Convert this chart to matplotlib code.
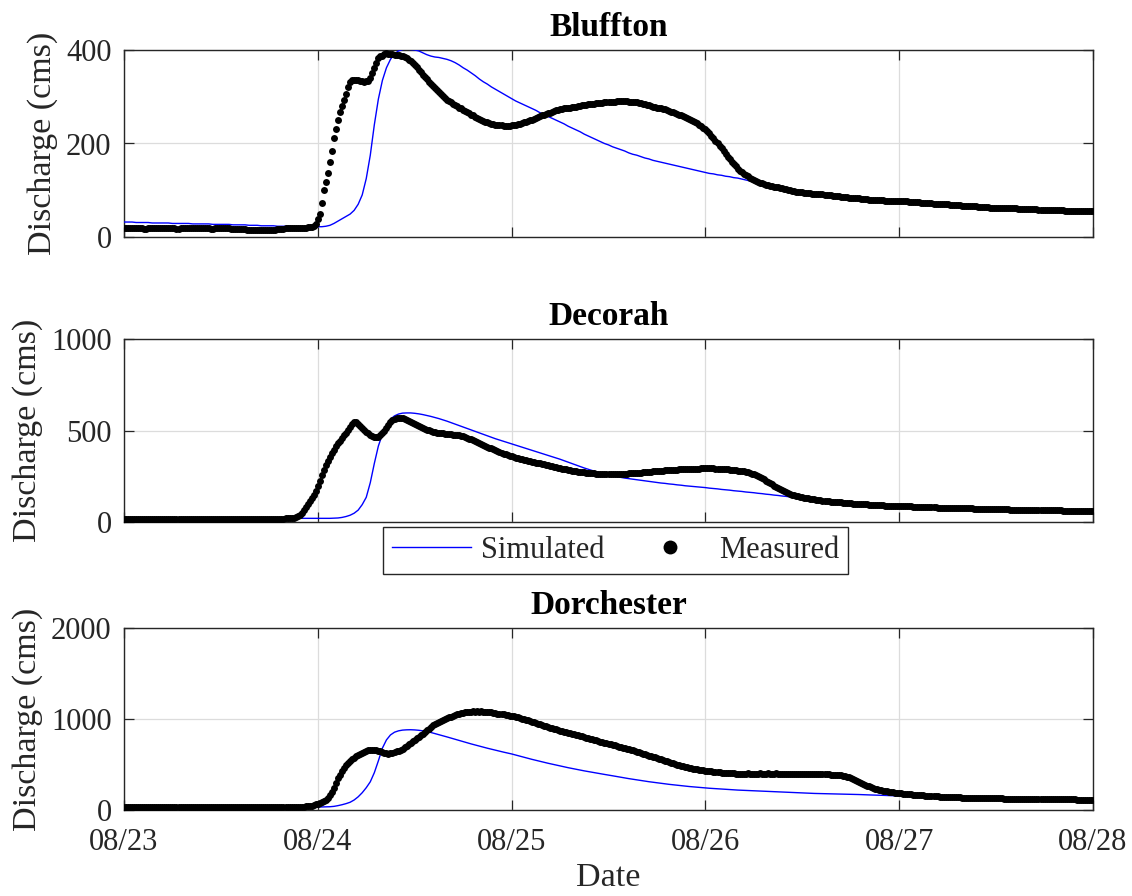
import numpy as np
import matplotlib
matplotlib.use("Agg")
import matplotlib.pyplot as plt
from matplotlib.lines import Line2D

plt.rcParams["font.family"] = ["Liberation Serif", "DejaVu Serif"]

# ---------------------------------------------------------------------------
# Data: discharge (cms) from 08/23 00:00 to 08/28 00:00
#   measured gauge records every 15 minutes, simulated output every 30 minutes
#   (one row below = 12 hours)
# ---------------------------------------------------------------------------
MEAS_STEP_HOURS = 0.25
SIM_STEP_HOURS = 0.5
stations = ["Bluffton", "Decorah", "Dorchester"]
date_labels = ["08/23", "08/24", "08/25", "08/26", "08/27", "08/28"]
y_limits = [400, 1000, 2000]
y_ticks = [[0, 200, 400], [0, 500, 1000], [0, 1000, 2000]]

bluffton_measured = [
    19, 19, 19, 19, 19, 19, 19, 19, 19, 19, 18, 18, 19, 19, 19, 19, 19, 19, 19, 19, 19, 19, 19, 19,
    19, 19, 18, 18, 19, 19, 19, 19, 19, 19, 19, 19, 19, 19, 19, 19, 19, 19, 19, 18, 18, 19, 19, 19,
    19, 19, 19, 19, 19, 18, 18, 18, 18, 18, 18, 17, 17, 16, 16, 15, 15, 15, 15, 15, 15, 15, 15, 15,
    15, 15, 16, 16, 17, 17, 18, 18, 19, 19, 19, 19, 19, 19, 19, 20, 20, 20, 20, 21, 21, 22, 24, 28,
    38, 50, 73, 100, 118, 136, 160, 185, 212, 230, 250, 268, 280, 293, 305, 320, 331, 335, 336, 336, 335, 334, 333, 332,
    333, 334, 340, 350, 362, 372, 383, 387, 388, 391, 393, 392, 391, 391, 390, 390, 389, 388, 387, 385, 382, 379, 376, 372,
    368, 363, 357, 352, 347, 342, 338, 332, 327, 322, 318, 314, 310, 306, 302, 298, 294, 291, 288, 285, 282, 280, 277, 275,
    272, 270, 267, 265, 262, 260, 257, 255, 253, 251, 249, 247, 245, 244, 242, 241, 240, 240, 239, 239, 238, 238, 238, 238,
    239, 239, 240, 241, 242, 243, 245, 246, 248, 250, 251, 253, 255, 256, 258, 260, 262, 263, 265, 266, 268, 270, 271, 272,
    273, 274, 275, 276, 277, 277, 278, 279, 279, 280, 281, 282, 283, 283, 284, 284, 285, 285, 286, 286, 287, 287, 288, 288,
    289, 289, 289, 289, 290, 290, 290, 290, 290, 290, 289, 289, 289, 289, 288, 287, 286, 285, 284, 283, 282, 281, 279, 278,
    277, 276, 275, 274, 273, 271, 270, 268, 267, 265, 264, 262, 260, 258, 256, 254, 252, 250, 248, 246, 243, 240, 237, 234,
    231, 227, 222, 217, 211, 206, 200, 195, 190, 184, 178, 172, 166, 161, 156, 151, 146, 142, 139, 135, 132, 130, 127, 124,
    122, 120, 118, 116, 115, 113, 112, 111, 110, 109, 108, 107, 106, 105, 104, 103, 102, 101, 100, 99, 98, 97, 97, 96,
    96, 95, 95, 95, 94, 93, 93, 92, 92, 91, 91, 90, 90, 89, 89, 88, 88, 87, 87, 86, 86, 85, 85, 84,
    84, 84, 84, 83, 83, 82, 82, 81, 81, 80, 80, 80, 80, 79, 79, 79, 79, 78, 78, 78, 78, 77, 77, 77,
    77, 76, 76, 76, 76, 75, 75, 74, 74, 74, 74, 73, 73, 73, 73, 72, 72, 71, 71, 71, 71, 70, 70, 70,
    70, 69, 69, 69, 69, 68, 68, 67, 67, 67, 67, 66, 66, 66, 66, 65, 65, 64, 64, 64, 64, 63, 63, 63,
    63, 62, 62, 62, 62, 61, 61, 61, 61, 61, 61, 60, 60, 60, 60, 60, 59, 59, 59, 59, 59, 58, 58, 58,
    58, 58, 58, 58, 57, 57, 57, 57, 57, 57, 56, 56, 56, 56, 56, 56, 56, 56, 55, 55, 55, 55, 55, 55,
    55,
]
bluffton_simulated = [
    32, 32, 32, 31, 31, 31, 31, 30, 30, 30, 30, 30, 29, 29, 29, 29, 29, 28, 28, 28, 28, 28, 27, 27,
    27, 27, 27, 26, 26, 26, 26, 25, 25, 25, 24, 24, 24, 24, 23, 23, 23, 23, 22, 22, 22, 22, 22, 22,
    22, 22, 23, 25, 29, 34, 39, 44, 49, 57, 70, 90, 125, 175, 240, 295, 335, 362, 380, 392, 398, 401, 402, 401,
    400, 398, 394, 390, 387, 385, 384, 382, 380, 377, 373, 368, 362, 357, 351, 345, 338, 332, 327, 321, 316, 311, 306, 301,
    296, 291, 287, 283, 279, 275, 271, 266, 262, 258, 254, 250, 246, 242, 237, 233, 229, 225, 220, 216, 212, 208, 204, 200,
    197, 193, 190, 187, 184, 180, 177, 175, 172, 169, 167, 164, 162, 160, 158, 156, 154, 152, 150, 148, 146, 144, 142, 140,
    138, 136, 135, 133, 132, 130, 129, 127, 126, 124, 122, 120, 119, 117, 115, 113, 111, 109, 107, 105, 103, 101, 99, 98,
    96, 95, 94, 93, 92, 91, 90, 89, 88, 87, 86, 85, 84, 83, 82, 81, 80, 80, 79, 78, 78, 77, 77, 76,
    76, 75, 75, 74, 73, 73, 72, 72, 71, 70, 70, 69, 69, 68, 67, 67, 66, 66, 65, 64, 64, 63, 63, 62,
    62, 61, 61, 60, 60, 60, 59, 59, 58, 58, 58, 57, 57, 57, 56, 56, 56, 55, 55, 55, 55, 54, 54, 54,
    54,
]

decorah_measured = [
    18, 18, 18, 18, 18, 18, 18, 18, 18, 18, 18, 18, 18, 18, 18, 18, 18, 18, 18, 18, 18, 18, 18, 18,
    18, 18, 18, 18, 18, 18, 18, 18, 18, 18, 18, 18, 18, 18, 18, 18, 18, 18, 18, 18, 18, 18, 18, 18,
    18, 18, 18, 18, 18, 18, 18, 18, 18, 18, 18, 18, 18, 18, 18, 18, 18, 18, 18, 18, 18, 18, 18, 18,
    18, 18, 18, 18, 19, 19, 19, 19, 20, 20, 21, 22, 24, 27, 32, 40, 50, 64, 80, 97, 115, 132, 150, 172,
    195, 225, 255, 283, 310, 333, 355, 375, 395, 413, 430, 445, 460, 474, 488, 503, 518, 533, 548, 545, 538, 527, 515, 505,
    494, 484, 475, 469, 465, 464, 466, 474, 485, 498, 512, 528, 545, 555, 562, 566, 568, 569, 568, 565, 560, 554, 548, 541,
    535, 530, 525, 520, 515, 510, 505, 501, 497, 494, 491, 489, 487, 485, 484, 482, 481, 480, 479, 477, 476, 474, 473, 470,
    468, 464, 460, 456, 452, 447, 443, 437, 432, 427, 422, 417, 412, 407, 402, 397, 392, 387, 383, 378, 374, 370, 366, 362,
    358, 354, 351, 348, 345, 342, 340, 337, 335, 332, 330, 327, 325, 322, 320, 317, 315, 312, 310, 307, 305, 302, 300, 297,
    295, 292, 290, 287, 285, 282, 280, 278, 277, 275, 274, 272, 271, 270, 269, 268, 267, 266, 265, 264, 264, 263, 263, 263,
    263, 263, 263, 263, 263, 263, 264, 264, 265, 265, 266, 266, 267, 267, 268, 269, 270, 271, 272, 273, 274, 275, 276, 277,
    278, 279, 280, 281, 282, 282, 283, 284, 285, 285, 286, 287, 288, 288, 289, 289, 290, 290, 291, 291, 292, 292, 293, 293,
    294, 294, 294, 293, 293, 292, 292, 291, 290, 289, 288, 287, 286, 285, 284, 282, 281, 279, 278, 276, 274, 271, 268, 265,
    261, 257, 252, 246, 240, 233, 226, 219, 212, 205, 198, 191, 185, 179, 173, 168, 163, 158, 154, 150, 147, 144, 141, 138,
    136, 133, 131, 129, 127, 125, 123, 121, 120, 118, 117, 115, 114, 113, 112, 111, 110, 109, 108, 107, 106, 105, 104, 103,
    102, 101, 100, 99, 99, 98, 97, 96, 96, 95, 95, 94, 93, 92, 92, 91, 91, 90, 90, 89, 89, 88, 88, 87,
    87, 87, 87, 86, 86, 85, 85, 84, 84, 83, 83, 82, 82, 82, 82, 81, 81, 80, 80, 79, 79, 79, 79, 78,
    78, 77, 77, 77, 77, 76, 76, 75, 75, 75, 75, 74, 74, 73, 73, 73, 73, 72, 72, 72, 72, 71, 71, 71,
    70, 70, 70, 69, 69, 69, 69, 68, 68, 68, 68, 67, 67, 67, 67, 66, 66, 66, 66, 65, 65, 65, 65, 64,
    64, 64, 64, 63, 63, 63, 63, 63, 63, 62, 62, 62, 62, 61, 61, 61, 61, 61, 61, 60, 60, 60, 60, 60,
    60,
]
decorah_simulated = [
    24, 24, 24, 23, 23, 23, 23, 23, 22, 22, 22, 22, 22, 22, 22, 21, 21, 21, 21, 21, 21, 21, 21, 21,
    21, 21, 21, 21, 20, 20, 20, 20, 20, 20, 20, 20, 20, 20, 20, 20, 20, 20, 20, 20, 20, 20, 20, 20,
    20, 20, 20, 20, 21, 22, 25, 30, 37, 48, 65, 95, 135, 215, 320, 415, 480, 530, 562, 580, 590, 595, 596, 596,
    594, 591, 587, 582, 577, 571, 565, 558, 551, 543, 535, 527, 519, 511, 503, 495, 487, 479, 471, 463, 455, 448, 441, 434,
    427, 420, 413, 406, 399, 392, 385, 378, 371, 364, 357, 350, 343, 335, 327, 319, 311, 303, 295, 288, 281, 274, 268, 262,
    257, 252, 248, 244, 240, 237, 234, 231, 228, 225, 222, 219, 216, 213, 211, 208, 206, 203, 201, 198, 196, 194, 192, 190,
    188, 185, 183, 181, 178, 176, 174, 171, 169, 167, 164, 162, 160, 157, 155, 152, 150, 147, 145, 142, 140, 137, 135, 132,
    130, 127, 124, 121, 118, 115, 112, 110, 108, 106, 104, 102, 100, 98, 97, 95, 94, 93, 91, 90, 89, 88, 87, 86,
    86, 85, 84, 83, 82, 81, 81, 80, 79, 78, 78, 77, 76, 76, 75, 74, 74, 73, 72, 72, 71, 71, 70, 70,
    69, 69, 68, 68, 67, 67, 66, 66, 65, 65, 64, 64, 63, 63, 62, 62, 62, 61, 61, 60, 60, 60, 59, 59,
    59,
]

dorchester_measured = [
    30, 30, 30, 30, 30, 30, 30, 30, 30, 30, 30, 30, 30, 30, 30, 30, 30, 30, 30, 30, 30, 30, 30, 30,
    30, 30, 30, 30, 30, 30, 30, 30, 30, 30, 30, 30, 30, 30, 30, 30, 30, 30, 30, 30, 30, 30, 30, 30,
    30, 30, 30, 30, 30, 30, 30, 30, 30, 30, 30, 30, 30, 30, 30, 30, 30, 30, 30, 30, 30, 30, 30, 30,
    30, 30, 30, 30, 30, 30, 30, 30, 30, 30, 31, 31, 32, 33, 34, 35, 36, 38, 40, 42, 44, 49, 55, 62,
    70, 80, 90, 102, 115, 135, 160, 200, 245, 300, 350, 390, 425, 460, 490, 515, 535, 556, 575, 591, 605, 618, 630, 640,
    648, 654, 658, 659, 658, 655, 650, 643, 635, 628, 622, 620, 622, 628, 635, 643, 652, 663, 675, 690, 705, 721, 738, 754,
    770, 788, 805, 822, 840, 858, 875, 894, 912, 929, 945, 958, 970, 980, 990, 999, 1008, 1017, 1025, 1034, 1042, 1050, 1058, 1063,
    1068, 1072, 1077, 1074, 1080, 1084, 1080, 1085, 1078, 1083, 1080, 1076, 1079, 1073, 1074, 1066, 1065, 1060, 1058, 1051, 1052, 1044, 1042, 1037,
    1035, 1030, 1025, 1019, 1012, 1005, 998, 992, 985, 979, 972, 965, 958, 950, 942, 934, 925, 918, 911, 905, 898, 892, 885, 879,
    873, 868, 862, 856, 850, 844, 838, 832, 826, 820, 814, 808, 802, 796, 790, 784, 778, 771, 764, 758, 751, 745, 739, 733,
    727, 721, 715, 709, 703, 697, 691, 685, 679, 673, 667, 661, 655, 648, 641, 634, 627, 620, 613, 606, 598, 591, 584, 577,
    570, 563, 556, 549, 541, 534, 527, 521, 514, 507, 500, 494, 488, 482, 476, 470, 464, 459, 455, 451, 447, 443, 440, 436,
    433, 430, 427, 424, 421, 418, 416, 413, 411, 409, 407, 405, 404, 403, 402, 401, 401, 400, 400, 400, 400, 402, 400, 398,
    400, 401, 400, 403, 401, 400, 401, 404, 401, 399, 400, 402, 400, 398, 400, 401, 400, 397, 400, 399, 400, 401, 399, 398,
    398, 398, 397, 396, 396, 395, 395, 394, 394, 393, 393, 392, 392, 391, 390, 389, 388, 386, 384, 381, 378, 374, 368, 361,
    352, 342, 332, 321, 310, 299, 288, 278, 268, 259, 250, 242, 235, 229, 223, 218, 213, 209, 205, 201, 198, 194, 191, 188,
    185, 182, 180, 177, 175, 173, 171, 169, 167, 165, 164, 162, 160, 158, 157, 155, 154, 152, 151, 149, 148, 147, 146, 145,
    144, 143, 142, 141, 140, 139, 138, 137, 136, 135, 134, 133, 133, 132, 132, 131, 131, 130, 130, 129, 129, 128, 128, 127,
    127, 127, 127, 127, 126, 126, 126, 126, 125, 125, 125, 125, 124, 124, 124, 124, 123, 123, 123, 123, 122, 122, 122, 122,
    121, 121, 121, 121, 120, 120, 120, 120, 119, 119, 118, 118, 117, 117, 116, 116, 115, 115, 114, 114, 113, 113, 112, 112,
    111,
]
dorchester_simulated = [
    30, 30, 30, 30, 30, 30, 30, 30, 30, 30, 30, 30, 30, 30, 30, 30, 30, 30, 30, 30, 30, 30, 30, 30,
    30, 30, 30, 30, 30, 30, 30, 30, 30, 30, 30, 30, 30, 30, 30, 30, 30, 30, 30, 30, 31, 31, 31, 31,
    32, 33, 34, 36, 40, 48, 58, 70, 85, 110, 145, 190, 245, 310, 410, 540, 680, 770, 825, 855, 870, 878, 881, 882,
    880, 876, 870, 862, 852, 840, 828, 816, 803, 790, 777, 764, 751, 738, 726, 714, 702, 690, 679, 668, 657, 646, 636, 626,
    616, 604, 592, 580, 568, 557, 546, 535, 524, 514, 504, 494, 484, 474, 465, 456, 447, 438, 430, 422, 414, 406, 398, 391,
    384, 376, 368, 360, 352, 345, 338, 331, 324, 317, 311, 305, 299, 293, 287, 282, 277, 272, 267, 262, 258, 254, 250, 246,
    242, 239, 236, 233, 230, 227, 224, 222, 219, 217, 214, 212, 210, 208, 206, 204, 202, 200, 198, 196, 194, 192, 190, 188,
    186, 184, 183, 182, 181, 180, 179, 178, 177, 176, 175, 174, 172, 171, 170, 168, 167, 165, 164, 162, 161, 159, 158, 156,
    155, 153, 152, 150, 149, 147, 146, 144, 143, 141, 140, 138, 137, 135, 134, 132, 131, 129, 128, 127, 125, 124, 123, 122,
    121, 120, 119, 118, 117, 116, 115, 114, 113, 112, 111, 110, 109, 108, 107, 106, 105, 104, 103, 102, 101, 100, 99, 98,
    97,
]

measured = [bluffton_measured, decorah_measured, dorchester_measured]
simulated = [bluffton_simulated, decorah_simulated, dorchester_simulated]

# ---------------------------------------------------------------------------
# Figure
# ---------------------------------------------------------------------------
W, H = 1132, 896
fig = plt.figure(figsize=(W / 100, H / 100), dpi=100)

INK = "#262626"
GRID = "#dcdcdc"
x_left, x_right = 124, 1093
panel_rows = [(50, 237), (339, 522), (628, 810)]   # top / bottom in pixels

for i, (top, bottom) in enumerate(panel_rows):
    ax = fig.add_axes([x_left / W, 1 - bottom / H,
                       (x_right - x_left) / W, (bottom - top) / H])
    meas = np.asarray(measured[i], dtype=float)
    sim = np.asarray(simulated[i], dtype=float)
    t_meas = np.arange(meas.size) * MEAS_STEP_HOURS
    t_sim = np.arange(sim.size) * SIM_STEP_HOURS

    ax.plot(t_sim, sim, color="#0000ff", lw=1.0, zorder=3)
    ax.plot(t_meas, meas, ls="none", marker="o", ms=5.0, mfc="black",
            mec="black", mew=0.0, zorder=4)

    ax.set_xlim(0, 24 * (len(date_labels) - 1))
    ax.set_xticks([24 * k for k in range(len(date_labels))])
    ax.set_ylim(0, y_limits[i])
    ax.set_yticks(y_ticks[i])
    ax.set_yticklabels([str(v) for v in y_ticks[i]])

    ax.grid(True, color=GRID, lw=0.9)
    ax.set_axisbelow(True)
    ax.tick_params(direction="in", length=7, width=0.9, top=True, right=True,
                   colors=INK, labelsize=22)
    ax.tick_params(axis="y", pad=9)
    ax.tick_params(axis="x", pad=13)
    for sp in ax.spines.values():
        sp.set_color(INK)
        sp.set_linewidth(1.0)

    ax.set_title(stations[i], fontsize=24, fontweight="bold", color="black", pad=10)
    ax.set_ylabel("Discharge (cms)", fontsize=24.5, color=INK, labelpad=6)

    if i < len(panel_rows) - 1:
        ax.set_xticklabels([])
    else:
        ax.set_xticklabels(date_labels)
        ax.set_xlabel("Date", fontsize=24.5, color=INK, labelpad=4)

handles = [
    Line2D([], [], color="#0000ff", lw=1.0),
    Line2D([], [], ls="none", marker="o", ms=10, mfc="black", mec="black", mew=0),
]
leg = fig.legend(handles, ["Simulated", "Measured"], loc="upper center",
                 bbox_to_anchor=(615.5 / W, 1 - 527 / H), ncol=2,
                 frameon=True, fancybox=False, framealpha=1.0,
                 edgecolor=INK, fontsize=22, handlelength=2.6,
                 handletextpad=0.3, columnspacing=0.85, borderpad=0.3,
                 borderaxespad=0.0)
leg.get_frame().set_linewidth(1.0)
for txt in leg.get_texts():
    txt.set_color(INK)

fig.savefig("out.png", dpi=100)
